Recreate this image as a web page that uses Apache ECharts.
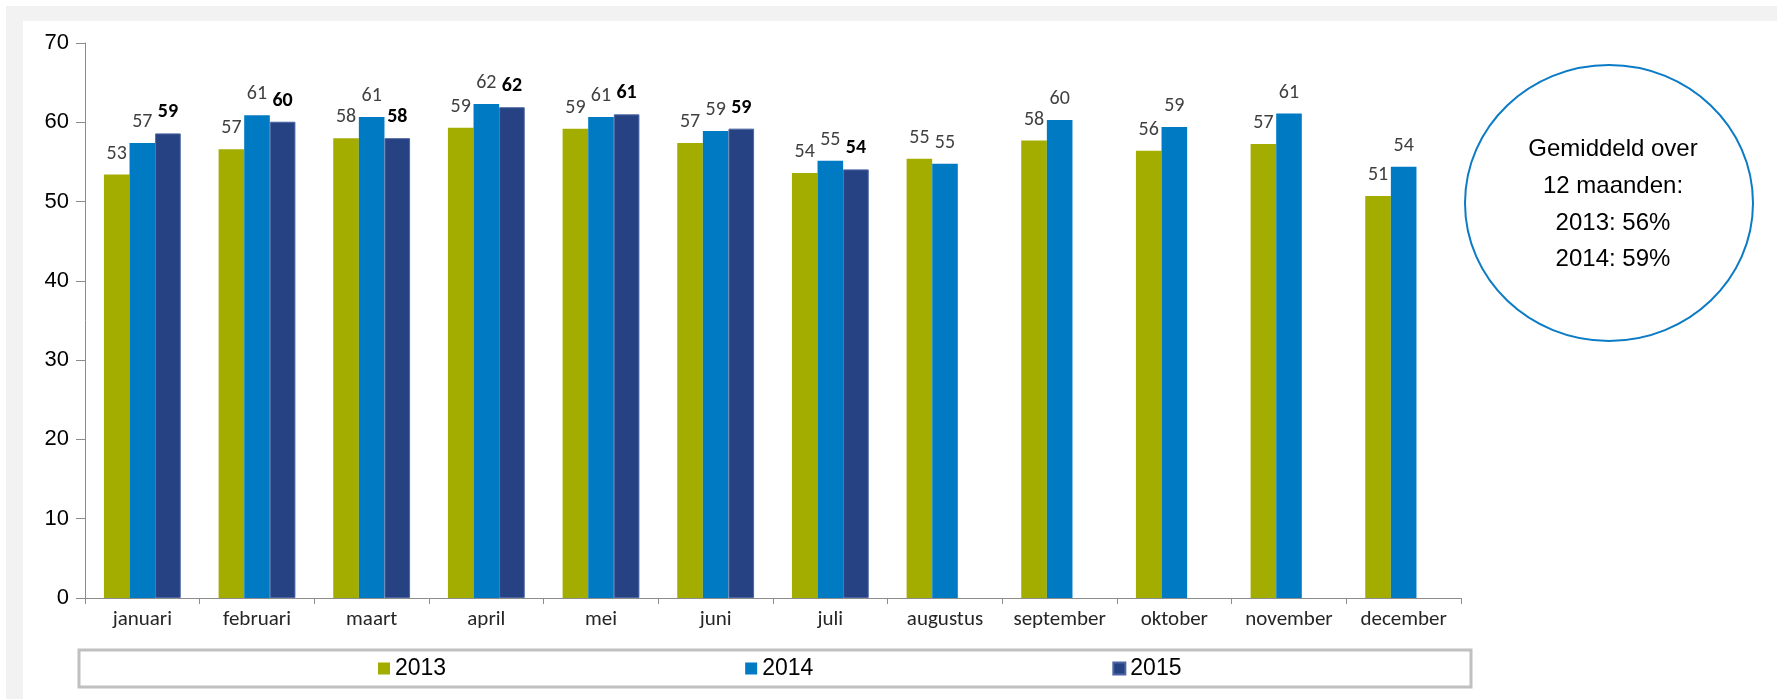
<!DOCTYPE html>
<html>
<head>
<meta charset="utf-8">
<script src="https://cdn.jsdelivr.net/npm/echarts@6/dist/echarts.min.js"></script>
<style>
html,body{margin:0;padding:0;background:#fff;width:1777px;height:699px;overflow:hidden;}
#band{position:absolute;left:6px;top:6px;width:1771px;height:693px;background:#f2f2f2;}
#panel{position:absolute;left:23px;top:21px;width:1754px;height:678px;background:#fff;}
#chart{position:absolute;left:0;top:0;width:1777px;height:699px;}
</style>
</head>
<body>
<div id="band"></div>
<div id="panel"></div>
<div id="chart"></div>
<script>
const months = ['januari','februari','maart','april','mei','juni','juli','augustus','september','oktober','november','december'];
const y2013 = [53.4, 56.6, 58.0, 59.3, 59.2, 57.4, 53.6, 55.4, 57.7, 56.4, 57.25, 50.7];
const y2014 = [57.4, 60.9, 60.66, 62.3, 60.66, 58.9, 55.15, 54.77, 60.3, 59.4, 61.1, 54.4];
const y2015 = [58.6, 60.07, 58.0, 61.9, 61.0, 59.2, 54.06, null, null, null, null, null];
const yTicks = {min: 0, max: 70, interval: 10};
const noteLines = ['Gemiddeld over', '12 maanden:', '2013: 56%', '2014: 59%'];

const labelFont = 'Carlito, Lato, sans-serif';
function normalLabel(){
  return {show:true, position:'top', distance:11, fontFamily:labelFont, fontSize:20, color:'#404040',
    formatter: p => p.value == null ? '' : String(Math.round(p.value))};
}
const chart = echarts.init(document.getElementById('chart'), null, {renderer:'canvas'});
const graphics = [
  {type:'rect', shape:{x:79, y:650, width:1392, height:37}, style:{fill:'#fff', stroke:'#c0c0c0', lineWidth:3}, z:-1},
  {type:'ellipse', shape:{cx:1609, cy:203, rx:144, ry:138}, style:{fill:'#fff', stroke:'#0b7bc6', lineWidth:2}}
];
const lineYs = [149, 186, 223, 259];
noteLines.forEach((t,i)=>{
  graphics.push({type:'text', x:1613, y:lineYs[i], style:{text:t, fill:'#000', font:'24px "Liberation Sans", Arial, sans-serif', textAlign:'center', textVerticalAlign:'middle'}, z:10});
});
chart.setOption({
  backgroundColor:'transparent',
  animation:false,
  grid:{left:85, right:316, top:43, bottom:101},
  legend:{
    left:378, top:657, itemWidth:12, itemHeight:12, itemGap:299, padding:0,
    icon:'rect',
    textStyle:{fontFamily:'"Liberation Sans", Arial, sans-serif', fontSize:23, color:'#000'},
    data:['2013','2014','2015']
  },
  xAxis:{
    type:'category', data:months,
    axisLine:{lineStyle:{color:'#8c8c8c', width:1}},
    axisTick:{show:true, interval:0, length:6, lineStyle:{color:'#8c8c8c'}},
    axisLabel:{interval:0, hideOverlap:false, fontFamily:labelFont, fontSize:21, color:'#262626', margin:11}
  },
  yAxis:{
    type:'value', min:yTicks.min, max:yTicks.max, interval:yTicks.interval,
    axisLine:{show:true, lineStyle:{color:'#8c8c8c', width:1}},
    axisTick:{show:true, length:9, lineStyle:{color:'#8c8c8c'}},
    splitLine:{show:false},
    axisLabel:{fontFamily:'"Liberation Sans", Arial, sans-serif', fontSize:22, color:'#000', margin:16}
  },
  graphic:graphics,
  series:[
    {name:'2013', type:'bar', data:y2013, barGap:'0%', barCategoryGap:'33%', itemStyle:{color:'#a3ad00'}, label:normalLabel()},
    {name:'2014', type:'bar', data:y2014, barGap:'0%', barCategoryGap:'33%', itemStyle:{color:'#007ac2'}, label:normalLabel()},
    {name:'2015', type:'bar', data:y2015, barGap:'0%', barCategoryGap:'33%', itemStyle:{color:'#264282', borderColor:'#4d66a3', borderWidth:1},
      label:{show:true, position:'top', distance:11, fontFamily:labelFont, fontSize:20, fontWeight:'bold', color:'#000',
        formatter: p => p.value == null ? '' : String(Math.round(p.value))}}
  ]
});
</script>
</body>
</html>
